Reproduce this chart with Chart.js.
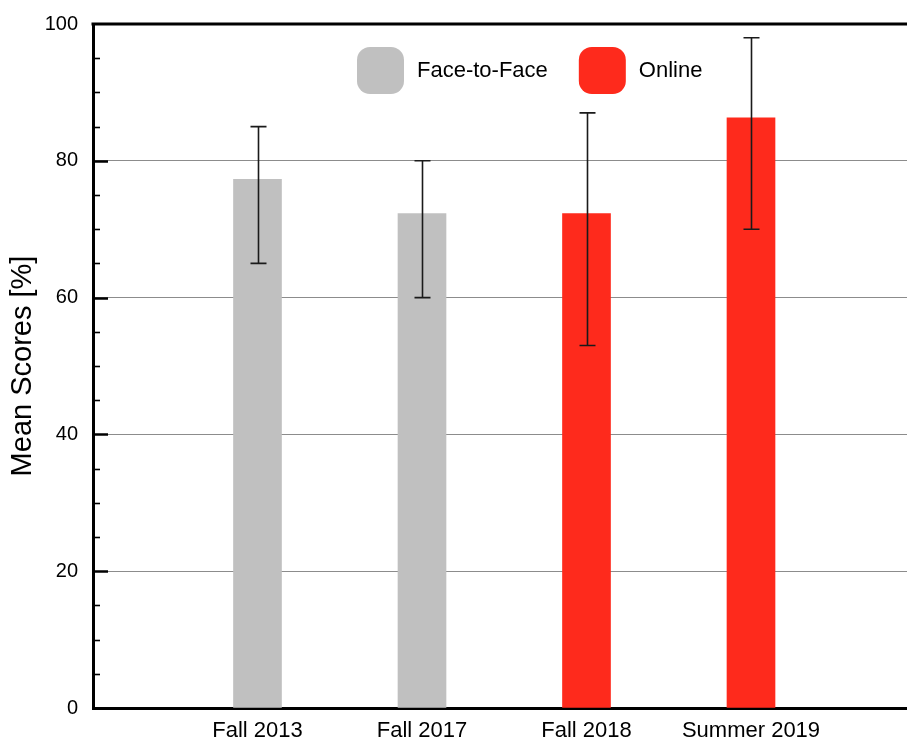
<!DOCTYPE html>
<html>
<head>
<meta charset="utf-8">
<script src="https://cdn.jsdelivr.net/npm/chart.js@4"></script>
<style>
  html,body{ margin:0; padding:0; background:#fff; overflow:hidden }
  .wrap{ width:907px; height:741px; position:relative }
</style>
</head>
<body>
<div class="wrap"><canvas id="c" width="907" height="741"></canvas></div>
<script>
// data
const categories = ['Fall 2013', 'Fall 2017', 'Fall 2018', 'Summer 2019'];
const mode = ['Face-to-Face', 'Face-to-Face', 'Online', 'Online'];
const means = [77.3, 72.3, 72.3, 86.3];
const errLow = [65, 60, 53, 70];
const errHigh = [85, 80, 87, 98];
const seriesNames = ['Face-to-Face', 'Online'];
const seriesColors = ['#c0c0c0', '#fe2a1c'];
const yTicks = [0, 20, 40, 60, 80, 100];

const FONT = '"Liberation Sans", Arial, Helvetica, sans-serif';

const datasets = seriesNames.map((name, s) => ({
  label: name,
  backgroundColor: seriesColors[s],
  borderWidth: 0,
  barThickness: 48,
  grouped: false,
  data: categories.map((c, i) => mode[i] === name ? { x: i + 1, y: means[i] } : null).filter(Boolean)
}));

// inward ticks, top frame line, error bars and the legend
const decor = {
  id: 'decor',
  afterDatasetsDraw(chart){
    const { ctx, chartArea: a, scales: { x, y } } = chart;
    ctx.save();
    // error bars
    ctx.strokeStyle = '#1a1a1a';
    ctx.lineWidth = 1.6;
    categories.forEach((c, i) => {
      const px = Math.round(x.getPixelForValue(i + 1)) + 0.5;
      const lo = y.getPixelForValue(errLow[i]);
      const hi = y.getPixelForValue(errHigh[i]);
      ctx.beginPath();
      ctx.moveTo(px, lo); ctx.lineTo(px, hi);
      ctx.moveTo(px - 8, lo); ctx.lineTo(px + 8, lo);
      ctx.moveTo(px - 8, hi); ctx.lineTo(px + 8, hi);
      ctx.stroke();
    });
    // minor / major ticks pointing inward
    ctx.strokeStyle = '#000';
    for (let v = 5; v < 100; v += 5) {
      const py = Math.round(y.getPixelForValue(v)) + 0.5;
      const major = v % 20 === 0;
      ctx.lineWidth = major ? 2.5 : 1.6;
      ctx.beginPath();
      ctx.moveTo(a.left, py);
      ctx.lineTo(a.left + (major ? 15 : 7), py);
      ctx.stroke();
    }
    // top frame
    ctx.lineWidth = 3;
    ctx.beginPath();
    ctx.moveTo(a.left - 1.5, a.top);
    ctx.lineTo(a.right, a.top);
    ctx.stroke();
    ctx.restore();
  },
  afterDraw(chart){
    const { ctx, chartArea: a } = chart;
    ctx.save();
    ctx.font = '22px ' + FONT;
    ctx.textBaseline = 'middle';
    let lx = a.left + 264;
    const ly = a.top + 23;
    seriesNames.forEach((name, s) => {
      ctx.fillStyle = seriesColors[s];
      ctx.beginPath();
      ctx.roundRect(lx, ly, 47, 47, 13);
      ctx.fill();
      ctx.fillStyle = '#000';
      ctx.fillText(name, lx + 60, ly + 24);
      lx += 60 + ctx.measureText(name).width + 31;
    });
    ctx.restore();
  }
};

new Chart(document.getElementById('c'), {
  type: 'bar',
  data: { datasets },
  options: {
    responsive: false,
    animation: false,
    layout: { padding: { top: 24, right: 0, left: 0, bottom: 0 } },
    plugins: { legend: { display: false }, tooltip: { enabled: false } },
    scales: {
      x: {
        type: 'linear',
        offset: false,
        min: 0,
        max: 814 / 164.5,
        grid: { display: false, drawTicks: false },
        border: { display: true, color: '#000', width: 3 },
        afterBuildTicks: s => { s.ticks = categories.map((c, i) => ({ value: i + 1 })); },
        afterFit: s => { s.height = 33; s.paddingLeft = 0; s.paddingRight = 0; },
        ticks: {
          autoSkip: false,
          maxRotation: 0,
          padding: 10,
          color: '#000',
          font: { family: FONT, size: 22 },
          callback: v => categories[v - 1] || ''
        }
      },
      y: {
        min: 0,
        max: 100,
        afterBuildTicks: s => { s.ticks = yTicks.map(v => ({ value: v })); },
        afterFit: s => { s.width = 93; s.paddingTop = 0; s.paddingBottom = 0; },
        grid: {
          drawTicks: false,
          color: c => (c.tick.value === 0 || c.tick.value === 100) ? 'rgba(0,0,0,0)' : '#8c8c8c',
          lineWidth: 1
        },
        border: { display: true, color: '#000', width: 3 },
        ticks: {
          padding: 15,
          color: '#000',
          font: { family: FONT, size: 20 }
        },
        title: {
          display: true,
          text: 'Mean Scores [%]',
          color: '#000',
          font: { family: FONT, size: 29 },
          padding: { top: 6, bottom: 0 }
        }
      }
    }
  },
  plugins: [decor]
});
</script>
</body>
</html>
